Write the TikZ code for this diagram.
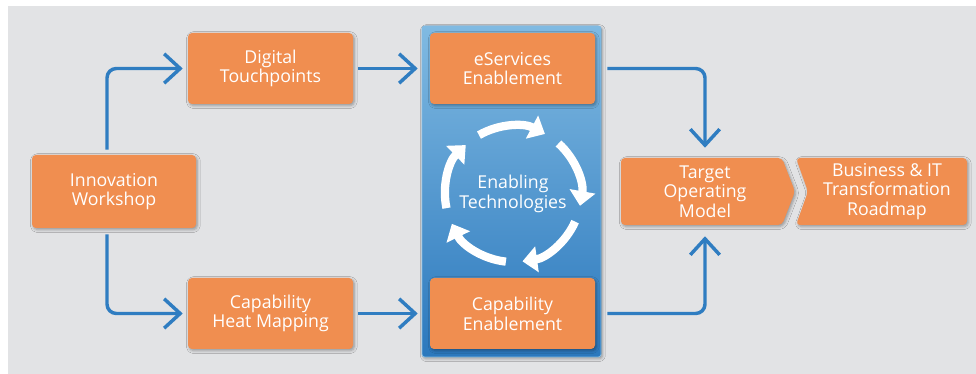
\documentclass[tikz,border=0pt]{standalone}
\usepackage{fontspec}
\setmainfont{Open Sans}
\usetikzlibrary{arrows.meta,shadows.blur}
\definecolor{panelgray}{HTML}{E2E3E5}
\definecolor{boxorange}{HTML}{F08E50}
\definecolor{flowblue}{HTML}{2F7DC1}
\definecolor{techtop}{HTML}{80BAE2}
\definecolor{techbot}{HTML}{2B78BD}
\begin{document}
\begin{tikzpicture}[x=0.75pt,y=0.75pt,
    label/.style={text=white, align=center, font=\fontsize{13.3}{14.8}\selectfont},
    soft/.style={blur shadow={shadow xshift=1pt, shadow yshift=-1.2pt, shadow blur steps=4, shadow opacity=35}},
    box/.style={label, soft, fill=boxorange, rounded corners=3pt, minimum width=123.75pt, minimum height=53.25pt},
    flow/.style={flowblue, line width=2.6pt, rounded corners=7pt,
      -{Straight Barb[length=12pt,width=22pt]}},
    turn/.style={white, line width=6.2pt, -{Triangle[length=11pt,width=19pt]}}]
                \fill[white] (0,0) rectangle (976,-374);
                \useasboundingbox (0,0) rectangle (976,-374);
                \fill[panelgray] (8,-6) rectangle (976,-374);
                % blue column behind the two enablement boxes
                \fill[soft, top color=techtop, bottom color=techbot, draw=techtop, line width=0.6pt, rounded corners=2pt]
                  (422,-26) rectangle (601,-357);
                % the two chevrons
                \fill[soft, boxorange, rounded corners=3pt] (621,-158) -- (782,-158) -- (795,-191.5) -- (782,-225) -- (621,-225) -- cycle;
                \fill[soft, boxorange, rounded corners=3pt] (796,-158) -- (967,-158) -- (967,-225) -- (796,-225) -- (808,-191.5) -- cycle;
                \node[label, minimum height=50.25pt] (tom) at (705,-191.5) {Target\\Operating\\Model};
                \node[label] (roadmap) at (887,-191.5) {Business \& IT\\Transformation\\Roadmap};
                \node[box, minimum width=123pt, minimum height=54.75pt] (innov) at (114,-191.5) {Innovation\\Workshop};
                \node[box] (digital) at (270.5,-68.5) {Digital\\Touchpoints};
                \node[box] (heatmap) at (270.5,-313.5) {Capability\\Heat Mapping};
                \node[box] (eserv) at (512.5,-68.5) {eServices\\Enablement};
                \node[box] (capen) at (512.5,-313.5) {Capability\\Enablement};
                \node[label] (enab) at (513,-194) {Enabling\\Technologies};
                \foreach \a in {120,48,-24,-96,-168}
                  \draw[turn] ([shift={(\a:51pt)}]enab.center) arc[start angle=\a, end angle=\a-58, radius=51pt];
                \draw[flow, shorten <=3.75pt, shorten >=3.75pt] ([xshift=-5.25pt]innov.north) |- (digital.west);
                \draw[flow, shorten <=4.5pt, shorten >=3.75pt] ([xshift=-5.25pt]innov.south) |- (heatmap.west);
                \draw[flow, shorten <=3.75pt, shorten >=9pt] (digital) -- (eserv);
                \draw[flow, shorten <=3.75pt, shorten >=9pt] (heatmap) -- (capen);
                \draw[flow, shorten <=9pt, shorten >=7.5pt] (eserv.east) -| (tom.north);
                \draw[flow, shorten <=9pt, shorten >=8.25pt] (capen.east) -| (tom.south);
\end{tikzpicture}
\end{document}
